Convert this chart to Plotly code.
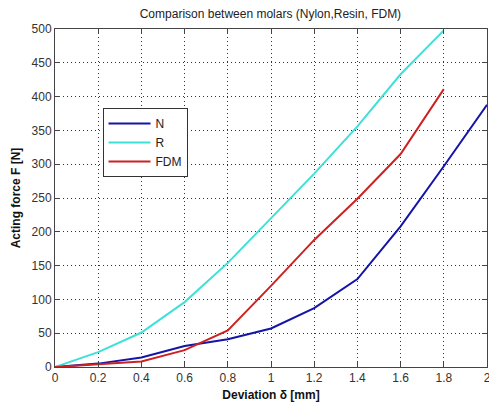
import plotly.graph_objects as go

x_n = [0, 0.2, 0.4, 0.6, 0.8, 1.0, 1.2, 1.4, 1.6, 1.8, 2.0]
n_vals = [0, 5, 14, 31, 41, 57, 87, 130, 208, 297, 388]
x_r = [0, 0.2, 0.4, 0.6, 0.8, 1.0, 1.2, 1.4, 1.6, 1.8]
r_vals = [0, 22, 51, 96, 154, 220, 286, 356, 433, 498]
x_f = [0, 0.2, 0.4, 0.6, 0.8, 1.0, 1.2, 1.4, 1.6, 1.8]
fdm_vals = [0, 4, 8, 25, 54, 120, 188, 249, 315, 411]

x_ticks = [0, 0.2, 0.4, 0.6, 0.8, 1, 1.2, 1.4, 1.6, 1.8, 2]
x_tick_text = ["0", "0.2", "0.4", "0.6", "0.8", "1", "1.2", "1.4", "1.6", "1.8", "2"]
y_ticks = [0, 50, 100, 150, 200, 250, 300, 350, 400, 450, 500]

FONT = "Liberation Sans, Arial, sans-serif"

fig = go.Figure()
fig.add_trace(go.Scatter(x=x_n, y=n_vals, mode="lines", name="N",
                         line=dict(color="#1414a8", width=2)))
fig.add_trace(go.Scatter(x=x_r, y=r_vals, mode="lines", name="R",
                         line=dict(color="#3fe0d8", width=2)))
fig.add_trace(go.Scatter(x=x_f, y=fdm_vals, mode="lines", name="FDM",
                         line=dict(color="#cc2222", width=2)))

axis_common = dict(
    showline=True, linecolor="#444444", linewidth=1, mirror="ticks",
    ticks="inside", ticklen=5, tickcolor="#444444",
    showgrid=True, gridcolor="#333333", griddash="1px,3px", gridwidth=1,
    zeroline=False, ticklabeloverflow="allow",
    tickfont=dict(family=FONT, size=12, color="#333333"),
)

fig.update_xaxes(range=[0, 2], tickvals=x_ticks, ticktext=x_tick_text,
                 title=dict(text="<b>Deviation δ [mm]</b>", standoff=6,
                            font=dict(family=FONT, size=12, color="#111111")),
                 **axis_common)
fig.update_yaxes(range=[0, 500], tickvals=y_ticks,
                 title=dict(text="<b>Acting force F [N]</b>", standoff=8,
                            font=dict(family=FONT, size=12, color="#111111")),
                 **axis_common)

fig.update_layout(
    width=489, height=405,
    margin=dict(l=55, r=2, t=29, b=38, autoexpand=False),
    paper_bgcolor="white", plot_bgcolor="white",
    title=dict(text="Comparison between molars (Nylon,Resin, FDM)",
               x=0.553, xanchor="center", y=0.965, yanchor="middle",
               font=dict(family=FONT, size=12, color="#222222")),
    legend=dict(x=0.11, y=0.766, xanchor="left", yanchor="top",
                bgcolor="white", bordercolor="#333333", borderwidth=1,
                font=dict(family=FONT, size=12, color="#222222"),
                tracegroupgap=0, itemwidth=42),
    showlegend=True,
)

fig.write_html("out.html",
               config={"displayModeBar": False},
               post_script="document.body.style.margin='0';document.body.style.overflow='hidden';")
